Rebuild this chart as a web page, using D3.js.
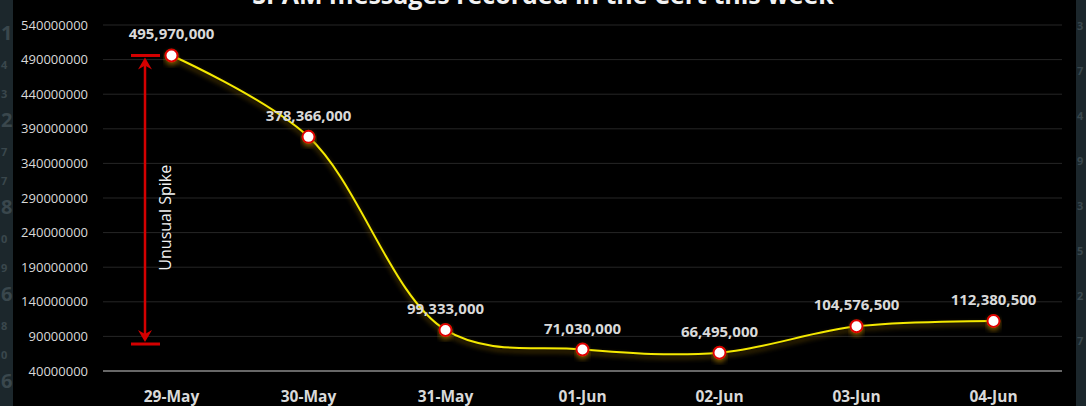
<!DOCTYPE html>
<html>
<head>
<meta charset="utf-8">
<script src="https://cdn.jsdelivr.net/npm/d3@7"></script>
<style>
  html, body { margin: 0; padding: 0; background: #1b252a; overflow: hidden; }
  #d3-container { width: 1086px; height: 406px; }
  text { font-family: "Open Sans", "Noto Sans", sans-serif; }
</style>
</head>
<body>
<div id="d3-container"></div>
<script>
/* CONSTANTS AND GLOBALS */
const width = 1086,
  height = 406,
  margin = { top: 25, bottom: 35, left: 103, right: 24 },
  radius = 6;

/* DATA */
const days = ["29-May", "30-May", "31-May", "01-Jun", "02-Jun", "03-Jun", "04-Jun"];
const messages = [495970000, 378366000, 99333000, 71030000, 66495000, 104576500, 112380500];
const yTicks = [40000000, 90000000, 140000000, 190000000, 240000000, 290000000, 340000000, 390000000, 440000000, 490000000, 540000000];
const spikeRange = [79000000, 495970000]; // the red "Unusual Spike" bracket
const title = "SPAM messages recorded in the Cert this week";
const sideDigitsLeft = ["1", "4", "3", "2", "7", "7", "8", "0", "9", "6", "8", "0", "6"];
const sideDigitsRight = ["3", "7", "4", "9", "3", "5", "2", "7"];

const svg = d3.select("#d3-container")
  .append("svg")
  .attr("width", width)
  .attr("height", height);

// backdrop: the dark panel behind the screenshot + the black chart area
svg.append("rect").attr("width", width).attr("height", height).attr("fill", "#1c272c");
svg.selectAll(".sideL")
  .data(sideDigitsLeft)
  .join("text")
  .attr("x", 1)
  .attr("y", (d, i) => 40 + i * 29)
  .attr("font-size", (d, i) => i % 3 === 0 ? 20 : 11)
  .attr("font-weight", "bold")
  .attr("fill", "#3a474d")
  .text(d => d);
svg.selectAll(".sideR")
  .data(sideDigitsRight)
  .join("text")
  .attr("x", 1077)
  .attr("y", (d, i) => 30 + i * 45)
  .attr("font-size", 11)
  .attr("font-weight", "bold")
  .attr("fill", "#3a474d")
  .text(d => d);
svg.append("rect").attr("x", 13).attr("width", 1063).attr("height", height).attr("fill", "#000");

// filters for glow
const defs = svg.append("defs");
const glow = defs.append("filter").attr("id", "glow")
  .attr("x", "-20%").attr("y", "-50%").attr("width", "140%").attr("height", "200%");
glow.append("feGaussianBlur").attr("in", "SourceAlpha").attr("stdDeviation", 2.5).attr("result", "b");
glow.append("feOffset").attr("in", "b").attr("dy", 3).attr("result", "o");
glow.append("feFlood").attr("flood-color", "#8c6400").attr("flood-opacity", 0.8);
glow.append("feComposite").attr("in2", "o").attr("operator", "in").attr("result", "s");
const gm = glow.append("feMerge");
gm.append("feMergeNode").attr("in", "s");
gm.append("feMergeNode").attr("in", "SourceGraphic");

// SCALES
const xScale = d3.scaleBand()
  .domain(days)
  .range([margin.left, width - margin.right]);

const yScale = d3.scaleLinear()
  .domain([40000000, 540000000])
  .range([height - margin.bottom, margin.top]);

// GRIDLINES + Y AXIS LABELS
svg.append("g")
  .selectAll("line")
  .data(yTicks)
  .join("line")
  .attr("x1", margin.left)
  .attr("x2", width - margin.right)
  .attr("y1", d => yScale(d))
  .attr("y2", d => yScale(d))
  .attr("stroke", d => d === 40000000 ? "#8a8a8a" : "#262626")
  .attr("stroke-width", d => d === 40000000 ? 1.5 : 1);

svg.append("g")
  .selectAll("text")
  .data(yTicks)
  .join("text")
  .attr("x", 88)
  .attr("y", d => yScale(d) + 4.5)
  .attr("text-anchor", "end")
  .attr("font-size", 13)
  .attr("fill", "#d9d9d9")
  .text(d => d);

// X AXIS LABELS
svg.append("g")
  .selectAll("text")
  .data(days)
  .join("text")
  .attr("x", d => xScale(d) + xScale.bandwidth() / 2)
  .attr("y", 402)
  .attr("text-anchor", "middle")
  .attr("font-size", 15.5)
  .attr("font-weight", "bold")
  .attr("fill", "#d9d9d9")
  .text(d => d);

// TITLE (cut off at the top, as in the screenshot)
svg.append("text")
  .attr("x", 543)
  .attr("y", 4)
  .attr("text-anchor", "middle")
  .attr("font-size", 25)
  .attr("font-weight", "bold")
  .attr("fill", "#f2f2f2")
  .text(title);

// LINE
const line = d3.line()
  .x((d, i) => xScale(days[i]) + xScale.bandwidth() / 2)
  .y(d => yScale(d))
  .curve(d3.curveCatmullRom.alpha(0.5));

svg.append("path")
  .datum(messages)
  .attr("d", line)
  .attr("fill", "none")
  .attr("stroke", "#f5e900")
  .attr("stroke-width", 2)
  .attr("filter", "url(#glow)");

// MARKERS
svg.append("g")
  .selectAll("circle")
  .data(messages)
  .join("circle")
  .attr("cx", (d, i) => xScale(days[i]) + xScale.bandwidth() / 2)
  .attr("cy", d => yScale(d))
  .attr("r", radius)
  .attr("fill", "#fff")
  .attr("stroke", "#e00000")
  .attr("stroke-width", 2)
  .attr("filter", "url(#glow)");

// DATA LABELS
svg.append("g")
  .selectAll("text")
  .data(messages)
  .join("text")
  .attr("x", (d, i) => xScale(days[i]) + xScale.bandwidth() / 2)
  .attr("y", d => yScale(d) - 16)
  .attr("text-anchor", "middle")
  .attr("font-size", 15)
  .attr("font-weight", "bold")
  .attr("fill", "#d9d9d9")
  .text(d => d3.format(",")(d));

// UNUSUAL SPIKE BRACKET
const ax = 145,
  yTop = yScale(spikeRange[1]),
  yBot = yScale(spikeRange[0]),
  red = "#d40000";
const spike = svg.append("g");
spike.append("line")
  .attr("x1", ax).attr("x2", ax)
  .attr("y1", yTop + 6).attr("y2", yBot - 6)
  .attr("stroke", red).attr("stroke-width", 2.5);
[yTop, yBot].forEach(y => {
  spike.append("line")
    .attr("x1", ax - 14).attr("x2", ax + 15)
    .attr("y1", y).attr("y2", y)
    .attr("stroke", red).attr("stroke-width", 3);
});
// arrowheads
spike.append("path")
  .attr("d", `M${ax},${yTop + 2} L${ax - 7},${yTop + 14} L${ax},${yTop + 10} L${ax + 7},${yTop + 14} Z`)
  .attr("fill", red);
spike.append("path")
  .attr("d", `M${ax},${yBot - 2} L${ax - 7},${yBot - 14} L${ax},${yBot - 10} L${ax + 7},${yBot - 14} Z`)
  .attr("fill", red);
spike.append("text")
  .attr("transform", `translate(${ax + 26}, ${(yTop + yBot) / 2 + 18}) rotate(-90)`)
  .attr("text-anchor", "middle")
  .attr("font-size", 16)
  .attr("fill", "#f2f2f2")
  .text("Unusual Spike");
</script>
</body>
</html>
